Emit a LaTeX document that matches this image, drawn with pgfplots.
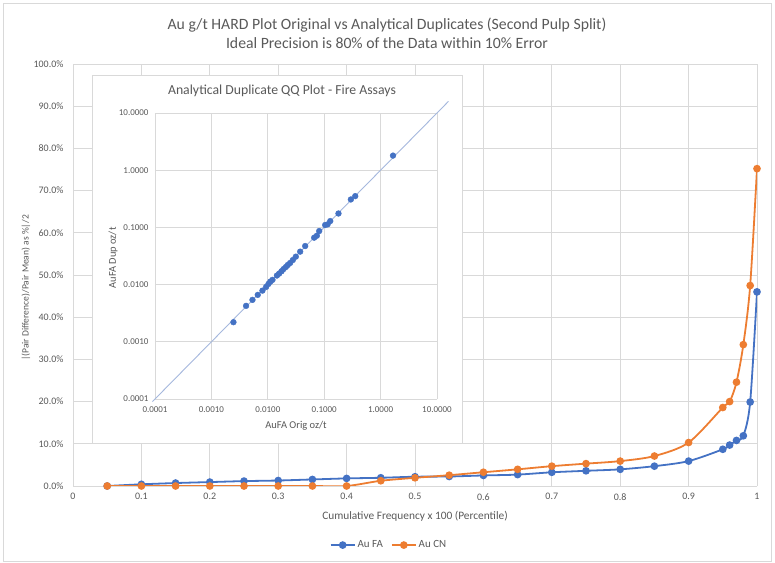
\documentclass[border=0pt]{standalone}
\usepackage{fontspec}
\setmainfont{Carlito}
\usepackage{pgfplots}
\usepackage{pgfplotstable}
\pgfplotsset{compat=1.18}
\definecolor{xlblue}{HTML}{4472C4}
\definecolor{xlorange}{HTML}{ED7D31}
\definecolor{xlgrid}{HTML}{D9D9D9}
\definecolor{xltext}{HTML}{595959}
\definecolor{diag}{HTML}{A5B8DD}

\pgfplotstableread{
x fa cn
0.05 0.0 0.0
0.10 0.4 0.0
0.15 0.7 0.0
0.20 0.93 0.0
0.25 1.16 0.0
0.30 1.3 0.0
0.35 1.55 0.0
0.40 1.8 0.0
0.45 1.95 1.24
0.50 2.2 1.94
0.55 2.25 2.56
0.60 2.5 3.26
0.65 2.7 3.95
0.70 3.25 4.7
0.75 3.6 5.3
0.80 3.95 5.9
0.85 4.7 7.1
0.90 5.9 10.3
0.95 8.7 18.6
0.96 9.7 20.0
0.97 10.8 24.6
0.98 11.9 33.5
0.99 19.9 47.5
1.00 46.0 75.2
}\maindata

\pgfplotstableread{
orig dup
0.00246 0.00220
0.00412 0.00425
0.00535 0.00541
0.00664 0.00661
0.00804 0.00785
0.00933 0.00910
0.0103 0.0103
0.0111 0.0113
0.0121 0.0121
0.0145 0.0144
0.0159 0.0156
0.0175 0.0171
0.0190 0.0187
0.0209 0.0203
0.0226 0.0220
0.0249 0.0239
0.0278 0.0269
0.0314 0.0308
0.0375 0.0377
0.0460 0.0472
0.0664 0.0661
0.0741 0.0716
0.0815 0.0863
0.104 0.110
0.115 0.113
0.128 0.129
0.179 0.175
0.297 0.308
0.355 0.352
1.66 1.80
}\qqdata

\begin{document}
\begin{tikzpicture}
\useasboundingbox (0,0) rectangle (775bp,563bp);
\draw[xlgrid, line width=0.8bp] (3bp,2bp) rectangle (771bp,560bp);

\begin{axis}[
  at={(73bp,77bp)}, anchor=south west, scale only axis,
  width=684bp, height=422bp,
  xmin=0, xmax=1, ymin=0, ymax=100,
  xtick={0,0.1,0.2,0.3,0.4,0.5,0.6,0.7,0.8,0.9,1},
  xticklabels={0,0.1,0.2,0.3,0.4,0.5,0.6,0.7,0.8,0.9,1},
  ytick={0,10,20,30,40,50,60,70,80,90,100},
  yticklabel={\pgfmathprintnumber[fixed,fixed zerofill,precision=1]{\tick}\%},
  /pgf/number format/assume math mode=true,
  grid=major, major grid style={xlgrid, line width=0.8bp},
  axis line style={draw=none},
  major tick length=0pt, tick style={draw=none},
  tick label style={font=\fontsize{10}{12}\selectfont, text=xltext},
  xticklabel style={yshift=-4bp},
  yticklabel style={xshift=-6bp},
  legend columns=2,
  legend style={at={(0.462,-0.14)}, anchor=center, draw=none,
    font=\fontsize{11}{13}\selectfont, text=xltext,
    /tikz/every even column/.append style={column sep=6bp}},
  legend image code/.code={\draw[mark repeat=2,mark phase=2] plot coordinates {(0bp,0bp)(12bp,0bp)(24bp,0bp)};},
]
\addplot[xlblue, line width=1.8bp, smooth, tension=0.5, mark=*, mark size=2.9bp, mark options={solid, fill=xlblue}] table[x=x, y=fa] {\maindata};
\addlegendentry{Au FA}
\addplot[xlorange, line width=1.8bp, smooth, tension=0.5, mark=*, mark size=2.9bp, mark options={solid, fill=xlorange}] table[x=x, y=cn] {\maindata};
\addlegendentry{Au CN}
\end{axis}

\node[align=center, text=xltext, font=\fontsize{15.8}{19}\selectfont] at (387bp,530bp)
  {Au g/t HARD Plot Original vs Analytical Duplicates (Second Pulp Split)\\Ideal Precision is 80\% of the Data within 10\% Error};
\node[text=xltext, font=\fontsize{11.4}{13}\selectfont] at (415bp,47bp) {Cumulative Frequency x 100 (Percentile)};
\node[text=xltext, font=\fontsize{9.6}{12}\selectfont, rotate=90] at (26bp,275bp) {|(Pair Difference)/Pair Mean) as \%|/2};

% inset
\filldraw[fill=white, draw=xlgrid, line width=0.8bp] (92bp,120bp) rectangle (462bp,488bp);

\begin{axis}[
  at={(155bp,164bp)}, anchor=south west, scale only axis,
  width=282bp, height=286bp,
  xmode=log, ymode=log,
  xmin=1e-4, xmax=10, ymin=1e-4, ymax=10,
  xtick={1e-4,1e-3,1e-2,1e-1,1,10},
  ytick={1e-4,1e-3,1e-2,1e-1,1,10},
  minor xtick={}, minor ytick={},
  xticklabels={0.0001,0.0010,0.0100,0.1000,1.0000,10.0000},
  yticklabels={0.0001,0.0010,0.0100,0.1000,1.0000,10.0000},
  grid=major, major grid style={xlgrid, line width=0.8bp},
  axis line style={draw=none},
  major tick length=0pt, tick style={draw=none},
  tick label style={font=\fontsize{9}{10}\selectfont, text=xltext},
  xticklabel style={yshift=-4bp},
  yticklabel style={xshift=-3bp},
  clip=false,
]
\addplot[diag, line width=0.9bp, no marks] coordinates {(0.00009,0.00009) (16,16)};
\addplot[only marks, mark=*, mark size=2.9bp, xlblue, mark options={fill=xlblue}] table[x=orig, y=dup] {\qqdata};
\end{axis}

\node[text=xltext, font=\fontsize{13.8}{16}\selectfont] at (282bp,472bp) {Analytical Duplicate QQ Plot - Fire Assays};
\node[text=xltext, font=\fontsize{10.5}{12}\selectfont] at (296bp,137bp) {AuFA Orig oz/t};
\node[text=xltext, font=\fontsize{10.5}{12}\selectfont, rotate=90] at (113bp,305bp) {AuFA Dup oz/t};
\end{tikzpicture}
\end{document}
